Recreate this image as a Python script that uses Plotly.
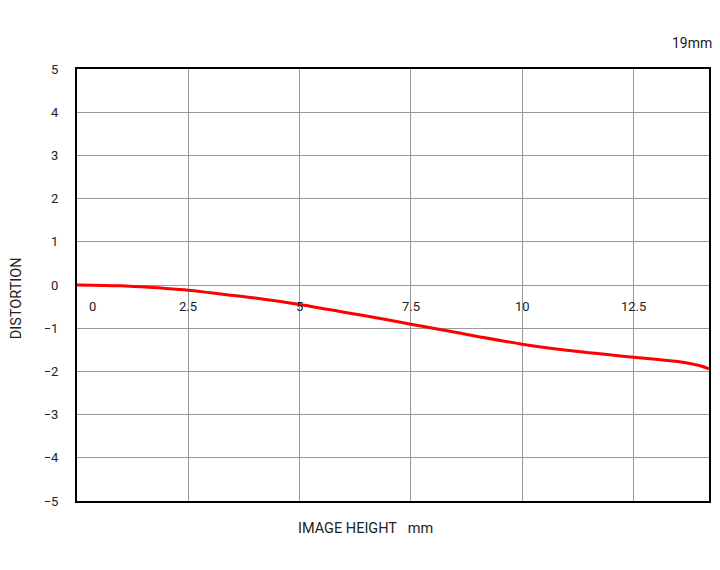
import plotly.graph_objects as go

image_height = [0, 1, 2, 2.5, 3, 4, 5, 6, 7, 7.5, 8, 9, 10, 11, 12, 12.5, 13, 13.5, 14, 14.2]
distortion = [0, -0.02, -0.08, -0.12, -0.18, -0.3, -0.45, -0.63, -0.81, -0.91, -1.0, -1.19, -1.37,
              -1.51, -1.62, -1.67, -1.72, -1.77, -1.87, -1.94]
x_ticks = [0, 2.5, 5, 7.5, 10, 12.5]
x_tick_labels = ["0", "2.5", "5", "7.5", "10", "12.5"]
y_ticks = [-5, -4, -3, -2, -1, 0, 1, 2, 3, 4, 5]
focal_label = "19mm"

FONT = "Roboto, Arial, sans-serif"

fig = go.Figure()
fig.add_trace(go.Scatter(x=image_height, y=distortion, mode="lines",
                         line=dict(color="#ff0000", width=3, shape="spline", smoothing=0.8),
                         showlegend=False, hoverinfo="skip"))

for v, t in zip(x_ticks, x_tick_labels):
    fig.add_annotation(x=v, y=0, xref="x", yref="y", text=t, showarrow=False,
                       yshift=-21, xshift=15 if v == 0 else 0,
                       font=dict(family=FONT, size=13, color="#222"))

fig.add_annotation(x=1.0, y=1.0, xref="paper", yref="paper", text=focal_label,
                   showarrow=False, xanchor="right", yanchor="middle", yshift=26, xshift=5,
                   font=dict(family=FONT, size=14, color="#222"))
fig.add_annotation(x=0.456, y=0, xref="paper", yref="paper", text="IMAGE HEIGHT&nbsp;&nbsp;&nbsp;mm",
                   showarrow=False, xanchor="center", yanchor="middle", yshift=-27,
                   font=dict(family=FONT, size=14.5, color="#222"))
fig.add_annotation(x=-0.0946, y=0.47, xref="paper", yref="paper", text="DISTORTION",
                   showarrow=False, textangle=-90, xanchor="center", yanchor="middle",
                   font=dict(family=FONT, size=14.5, color="#222"))

fig.update_xaxes(range=[0, 14.2], tickvals=x_ticks, showticklabels=False,
                 showgrid=True, gridcolor="#999", gridwidth=1, zeroline=False,
                 showline=True, linecolor="#000", linewidth=2, mirror=True, ticks="")
fig.update_yaxes(range=[-5, 5], tickvals=y_ticks, showgrid=True, gridcolor="#999", gridwidth=1,
                 zeroline=False, showline=True, linecolor="#000", linewidth=2, mirror=True,
                 ticks="outside", ticklen=14, tickcolor="rgba(0,0,0,0)",
                 tickfont=dict(family=FONT, size=13, color="#222"))

# page body has an 8px margin: size the figure so the plot frame lands where the reference has it
fig.update_layout(width=704, height=554, margin=dict(l=69, r=1, t=61, b=61),
                  plot_bgcolor="white", paper_bgcolor="white")
fig.write_html("out.html")
